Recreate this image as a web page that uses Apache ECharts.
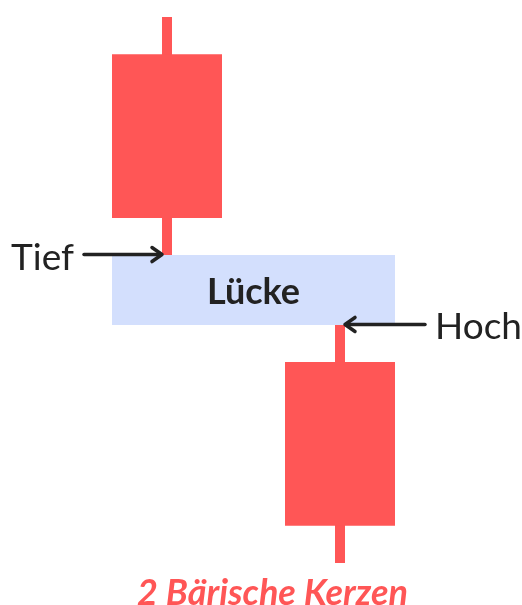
<!DOCTYPE html>
<html><head><meta charset="utf-8">
<script src="https://cdn.jsdelivr.net/npm/echarts@6/dist/echarts.min.js"></script>
<style>html,body{margin:0;padding:0;background:#fff}#c{width:522px;height:605px}</style>
</head><body><div id="c"></div>
<script>
// data
var categories = ['Kerze 1', 'Kerze 2'];
// [open, close, low, high]
var candleOpen  = [93.2, 36.8];
var candleClose = [63.2, 6.8];
var candleLow   = [56.4, 0];
var candleHigh  = [100, 43.6];
var annotations = ['Tief', 'Hoch'];
var gapLabel = 'Lücke';
var titleText = '2 Bärische Kerzen';

var RED = '#ff5656', GAP = '#d3dffd', INK = '#222222';
var BODY_W = 110, WICK_W = 10;

var candleData = categories.map(function (c, i) {
  return [i, candleOpen[i], candleClose[i], candleLow[i], candleHigh[i]];
});
var gapData = [[0, 1, candleLow[0], candleHigh[1]]];

function arrow(x1, x2, y, dir) {
  return {
    type: 'group', children: [
      { type: 'line', shape: { x1: x1, y1: y, x2: x2 - dir * 1.5, y2: y }, style: { stroke: INK, lineWidth: 3.5, lineCap: 'round' } },
      { type: 'polyline', shape: { points: [[x2 - dir * 10, y - 7], [x2, y], [x2 - dir * 10, y + 7]] }, style: { stroke: INK, lineWidth: 3.5, fill: null, lineCap: 'round', lineJoin: 'round' } }
    ]
  };
}

var chart = echarts.init(document.getElementById('c'), null, { renderer: 'canvas' });
chart.setOption({
  animation: false,
  backgroundColor: '#ffffff',
  title: {
    text: titleText, left: 132, top: 570,
    textStyle: { fontFamily: 'Lato', fontSize: 36, fontWeight: 'bold', fontStyle: 'italic', color: RED }
  },
  grid: { left: 80.5, width: 346, top: 17, bottom: 42 },
  xAxis: { type: 'category', data: categories, show: false, boundaryGap: true },
  yAxis: { type: 'value', min: 0, max: 100, show: false },
  series: [
    {
      type: 'custom', z: 1,
      data: gapData,
      renderItem: function (params, api) {
        var a = api.coord([api.value(0), api.value(2)]);
        var b = api.coord([api.value(1), api.value(3)]);
        var x0 = a[0] - BODY_W / 2, x1 = b[0] + BODY_W / 2;
        return {
          type: 'group', children: [
            { type: 'rect', shape: { x: x0, y: a[1], width: x1 - x0, height: b[1] - a[1] }, style: { fill: GAP } },
            { type: 'text', style: { text: gapLabel, x: (x0 + x1) / 2, y: (a[1] + b[1]) / 2 + 2, align: 'center', verticalAlign: 'middle', fontFamily: 'Lato', fontWeight: 'bold', fontSize: 36, fill: INK } }
          ]
        };
      }
    },
    {
      type: 'custom', z: 2,
      data: candleData,
      renderItem: function (params, api) {
        var i = api.value(0);
        var o = api.coord([i, api.value(1)]);
        var c = api.coord([i, api.value(2)]);
        var l = api.coord([i, api.value(3)]);
        var h = api.coord([i, api.value(4)]);
        var x = o[0];
        var children = [
          { type: 'rect', shape: { x: x - WICK_W / 2, y: h[1], width: WICK_W, height: l[1] - h[1] }, style: { fill: RED } },
          { type: 'rect', shape: { x: x - BODY_W / 2, y: Math.min(o[1], c[1]), width: BODY_W, height: Math.abs(c[1] - o[1]) }, style: { fill: RED } }
        ];
        if (params.dataIndex === 0) {
          children.push(arrow(x - 83, x - WICK_W / 2, l[1] - 0.5, 1));
          children.push({ type: 'text', style: { text: annotations[0], x: x - 93, y: l[1] + 3, align: 'right', verticalAlign: 'middle', fontFamily: 'Lato', fontSize: 37, fill: INK } });
        } else {
          children.push(arrow(x + 85, x + WICK_W / 2, h[1] - 0.5, -1));
          children.push({ type: 'text', style: { text: annotations[1], x: x + 95, y: h[1] + 2, align: 'left', verticalAlign: 'middle', fontFamily: 'Lato', fontSize: 37, fill: INK } });
        }
        return { type: 'group', children: children };
      }
    }
  ]
});
</script></body></html>
